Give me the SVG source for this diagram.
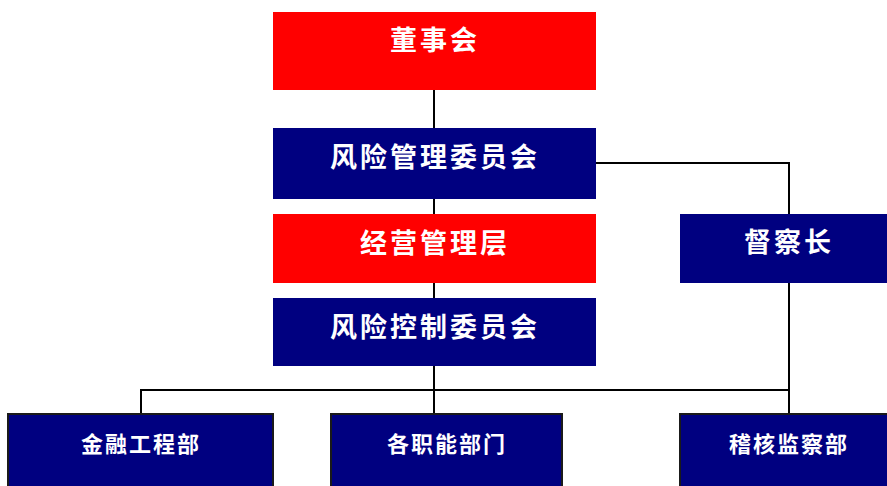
<svg xmlns="http://www.w3.org/2000/svg" width="887" height="486" viewBox="0 0 887 486">
<style>
.red{fill:#FF0000}
.navy{fill:#000080}
.bot{fill:#000080;stroke:#1a1a1a;stroke-width:2}
.t{fill:#FFFFFF;font-family:"Noto Sans CJK SC","Noto Sans CJK TC",sans-serif;font-weight:bold;text-anchor:middle;dominant-baseline:central}
.big{font-size:27px;letter-spacing:3px}
.small{font-size:22px;letter-spacing:2px}
.ln{fill:none;stroke:#000000;stroke-width:2}
</style>
<rect width="887" height="486" fill="#FFFFFF"/>
<g id="connectors">
<line class="ln" x1="434" y1="90" x2="434" y2="128"/>
<line class="ln" x1="434" y1="199" x2="434" y2="214"/>
<line class="ln" x1="434" y1="283" x2="434" y2="298"/>
<polyline class="ln" points="596,163 789,163 789,214"/>
<line class="ln" x1="789" y1="283" x2="789" y2="414"/>
<line class="ln" x1="434" y1="366" x2="434" y2="428"/>
<polyline class="ln" points="141,414 141,390 789,390"/>
</g>
<g id="dongshihui">
<rect class="red" x="273" y="12" width="323" height="78"/>
<text class="t big" x="435" y="38">董事会</text>
</g>
<g id="fengxian-guanli">
<rect class="navy" x="273" y="128" width="323" height="71"/>
<text class="t big" x="435" y="155">风险管理委员会</text>
</g>
<g id="jingying">
<rect class="red" x="273" y="214" width="323" height="69"/>
<text class="t big" x="435" y="241">经营管理层</text>
</g>
<g id="fengxian-kongzhi">
<rect class="navy" x="273" y="298" width="323" height="68"/>
<text class="t big" x="435" y="325">风险控制委员会</text>
</g>
<g id="duchazhang">
<rect class="navy" x="680" y="214" width="215" height="69"/>
<text class="t big" x="789" y="240">督察长</text>
</g>
<g id="jinrong">
<rect class="bot" x="8" y="414" width="265" height="80"/>
<text class="t small" x="141" y="442">金融工程部</text>
</g>
<g id="gezhineng">
<rect class="bot" x="331" y="414" width="231" height="80"/>
<text class="t small" x="447" y="442">各职能部门</text>
</g>
<g id="jihe">
<rect class="bot" x="680" y="414" width="215" height="80"/>
<text class="t small" x="789" y="442">稽核监察部</text>
</g>
</svg>
